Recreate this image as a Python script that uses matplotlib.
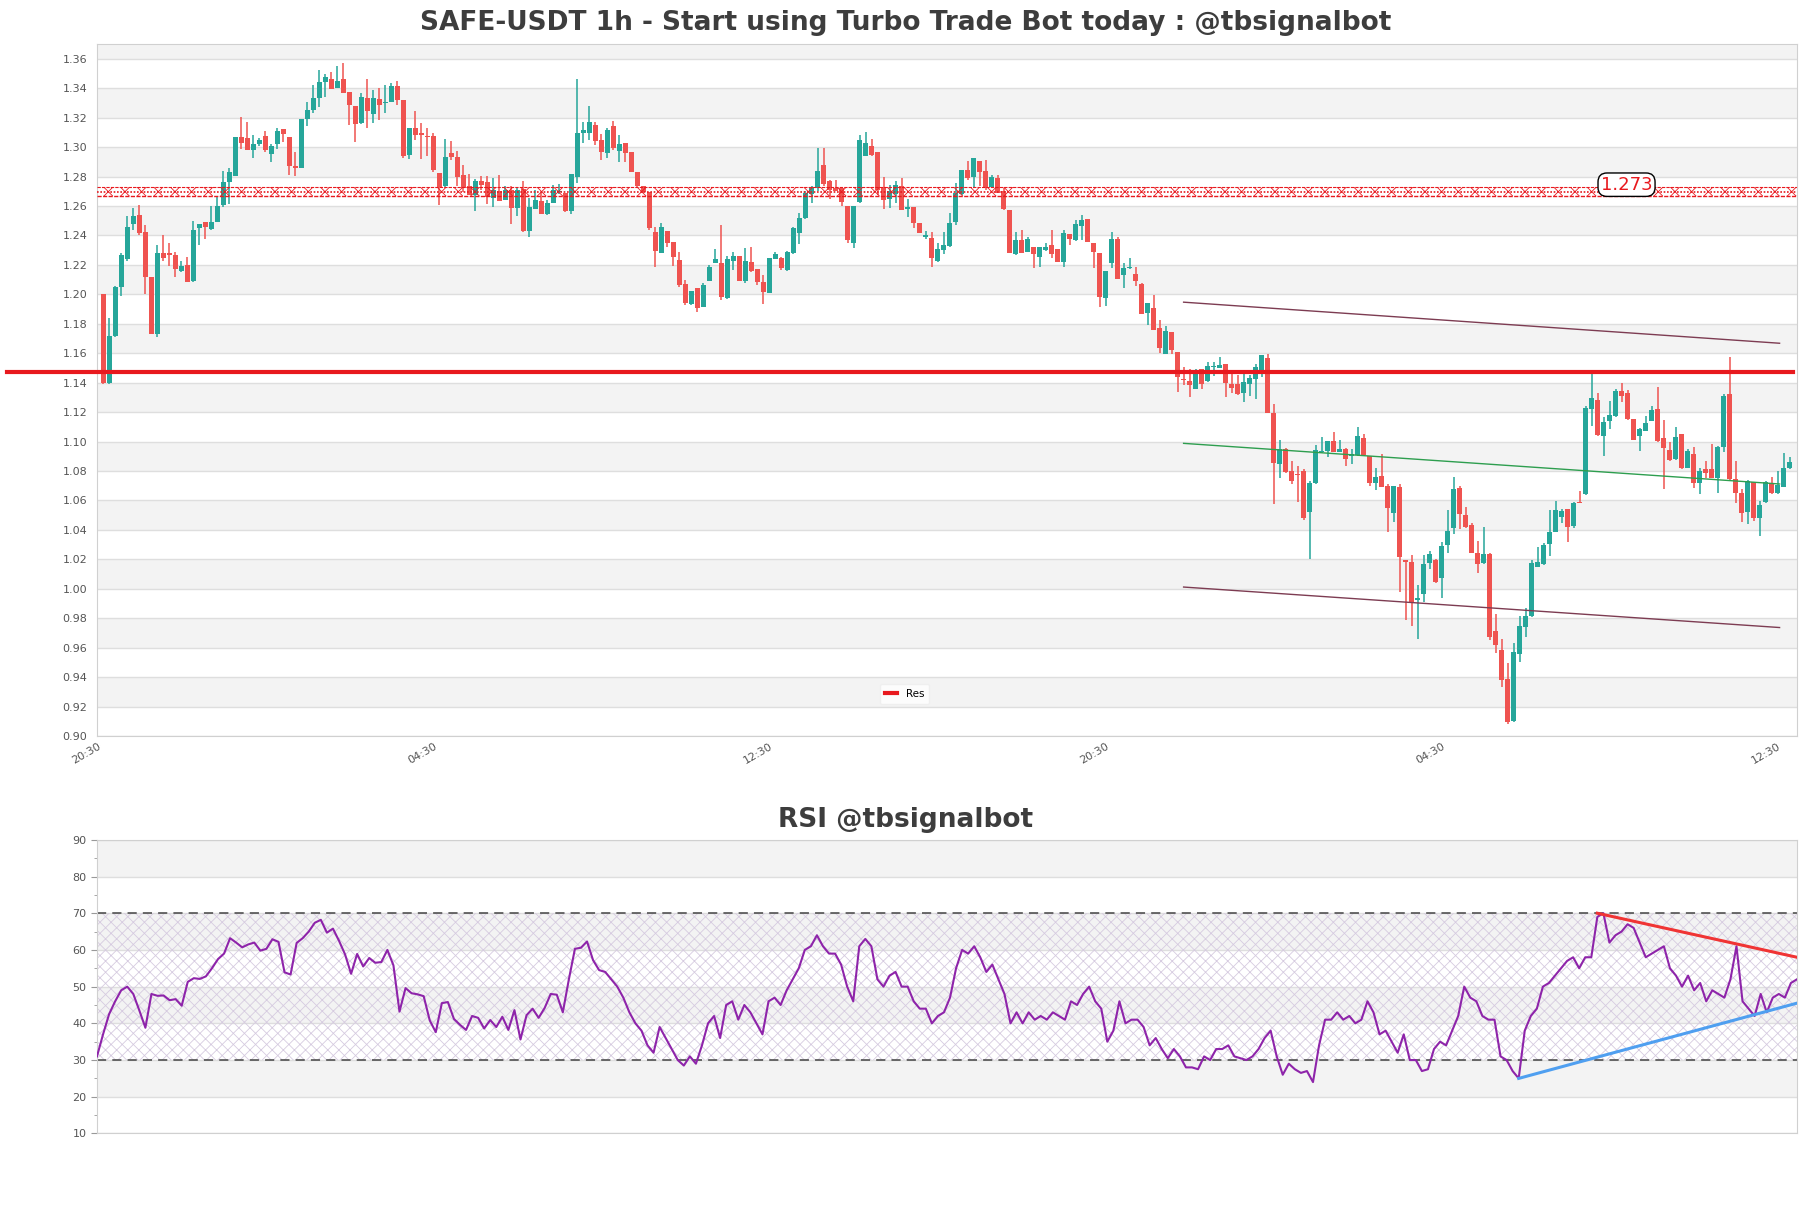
import matplotlib
matplotlib.use("Agg")
import matplotlib.pyplot as plt
import numpy as np

# candle data (hourly)
opens = [1.200, 1.140, 1.172, 1.205, 1.224, 1.248, 1.254, 1.2424, 1.212, 1.173,
         1.228, 1.228, 1.2268, 1.216, 1.220, 1.209, 1.245, 1.249, 1.2443, 1.2494,
         1.2607, 1.2766, 1.2807, 1.3072, 1.306, 1.298, 1.3018, 1.3079, 1.2952, 1.302,
         1.312, 1.3068, 1.287, 1.2855, 1.319, 1.3253, 1.3337, 1.344, 1.3464, 1.3405,
         1.3464, 1.3373, 1.328, 1.3167, 1.3335, 1.3228, 1.3328, 1.330, 1.331, 1.3417,
         1.3321, 1.2948, 1.313, 1.3095, 1.3075, 1.3077, 1.2823, 1.2733, 1.2959, 1.2932,
         1.2812, 1.2733, 1.2676, 1.2767, 1.2765, 1.2653, 1.2703, 1.2642, 1.271, 1.259,
         1.2714, 1.2433, 1.258, 1.2637, 1.2547, 1.2624, 1.2692, 1.2687, 1.2563, 1.2796,
         1.3095, 1.3095, 1.3152, 1.305, 1.2959, 1.3145, 1.2977, 1.3027, 1.2966, 1.283,
         1.2739, 1.2698, 1.2426, 1.2284, 1.2433, 1.2354, 1.2234, 1.2071, 1.1935, 1.2043,
         1.1917, 1.2093, 1.221, 1.221, 1.1972, 1.2226, 1.2264, 1.209, 1.2222, 1.217,
         1.2086, 1.2011, 1.2242, 1.2249, 1.2166, 1.228, 1.2416, 1.2518, 1.2683, 1.2722,
         1.2881, 1.2767, 1.2722, 1.2722, 1.2597, 1.2347, 1.2626, 1.2942, 1.3009, 1.2966,
         1.2726, 1.2649, 1.2683, 1.2737, 1.2578, 1.2592, 1.2483, 1.2393, 1.2386, 1.223,
         1.2303, 1.233, 1.2494, 1.2683, 1.2842, 1.2797, 1.2903, 1.2835, 1.2726, 1.279,
         1.270, 1.2574, 1.2275, 1.2366, 1.2291, 1.2325, 1.2257, 1.2298, 1.2336, 1.2309,
         1.2223, 1.2411, 1.2366, 1.2466, 1.2513, 1.2352, 1.228, 1.1974, 1.2212, 1.2375,
         1.2129, 1.2177, 1.2139, 1.2073, 1.1874, 1.1908, 1.1772, 1.1595, 1.1745, 1.1609,
         1.1426, 1.141, 1.1358, 1.149, 1.141, 1.1505, 1.150, 1.1528, 1.1392, 1.1392,
         1.1329, 1.1392, 1.1426, 1.1483, 1.1568, 1.1195, 1.0845, 1.0947, 1.080, 1.0777,
         1.080, 1.0524, 1.072, 1.0926, 1.0935, 1.1003, 1.0931, 1.0949, 1.0901, 1.0908,
         1.1026, 1.0901, 1.0716, 1.0766, 1.070, 1.0513, 1.0693, 1.0195, 1.018, 0.9922,
         0.9968, 1.0176, 1.0194, 1.0076, 1.0296, 1.0416, 1.0682, 1.0501, 1.0433, 1.0245,
         1.0177, 1.0234, 0.9714, 0.9585, 0.9388, 0.9099, 0.9558, 0.9739, 0.9816, 1.0151,
         1.0169, 1.0305, 1.0387, 1.0489, 1.0539, 1.0428, 1.0591, 1.0643, 1.122, 1.1281,
         1.1035, 1.1137, 1.1171, 1.1345, 1.1333, 1.1152, 1.1039, 1.1073, 1.1141, 1.122,
         1.1023, 1.0944, 1.0881, 1.105, 1.0824, 1.0915, 1.0718, 1.0813, 1.0813, 1.0752,
         1.0965, 1.1322, 1.0745, 1.065, 1.0525, 1.0727, 1.0478, 1.0587, 1.0722, 1.0648,
         1.0693, 1.082]
highs = [1.200, 1.184, 1.206, 1.228, 1.253, 1.259, 1.261, 1.247, 1.212, 1.2336,
         1.240, 1.2347, 1.229, 1.223, 1.2257, 1.250, 1.248, 1.249, 1.260, 1.266,
         1.284, 1.286, 1.307, 1.3208, 1.3174, 1.3083, 1.306, 1.311, 1.302, 1.3129,
         1.3125, 1.3068, 1.297, 1.319, 1.331, 1.342, 1.3525, 1.3496, 1.351, 1.3552,
         1.357, 1.3373, 1.328, 1.3367, 1.3464, 1.339, 1.340, 1.3423, 1.3435, 1.345,
         1.3321, 1.3129, 1.3247, 1.3163, 1.313, 1.3095, 1.2823, 1.3054, 1.3043, 1.2977,
         1.2879, 1.2816, 1.2782, 1.2802, 1.2805, 1.2789, 1.2812, 1.2733, 1.2733, 1.272,
         1.2771, 1.2653, 1.271, 1.2687, 1.2642, 1.2744, 1.275, 1.2687, 1.2816, 1.3462,
         1.3174, 1.328, 1.3174, 1.309, 1.313, 1.3179, 1.3081, 1.3027, 1.2966, 1.283,
         1.2739, 1.2698, 1.246, 1.2483, 1.2433, 1.2354, 1.2291, 1.2098, 1.2025, 1.2045,
         1.208, 1.220, 1.2305, 1.2474, 1.2264, 1.229, 1.2264, 1.2316, 1.2325, 1.217,
         1.2129, 1.2249, 1.2289, 1.2255, 1.2295, 1.2456, 1.2551, 1.2699, 1.2733, 1.2993,
         1.2993, 1.2775, 1.278, 1.2722, 1.2597, 1.260, 1.3083, 1.310, 1.3054, 1.2966,
         1.280, 1.2744, 1.2767, 1.279, 1.2647, 1.2592, 1.2483, 1.2431, 1.2422, 1.2347,
         1.2427, 1.2551, 1.2755, 1.2845, 1.2903, 1.2926, 1.2906, 1.2914, 1.2812, 1.2812,
         1.272, 1.2574, 1.2427, 1.2438, 1.2388, 1.2325, 1.2325, 1.2348, 1.2438, 1.2309,
         1.2438, 1.2411, 1.2502, 1.2541, 1.2513, 1.2352, 1.228, 1.216, 1.2427, 1.2393,
         1.2214, 1.2248, 1.2189, 1.2075, 1.1942, 1.1994, 1.1829, 1.1784, 1.1747, 1.1609,
         1.1505, 1.1494, 1.1494, 1.149, 1.1538, 1.1538, 1.1573, 1.1528, 1.146, 1.1449,
         1.1467, 1.1449, 1.1528, 1.159, 1.1598, 1.1252, 1.1009, 1.0955, 1.0868, 1.0834,
         1.0815, 1.0734, 1.0976, 1.1028, 1.1005, 1.1066, 1.1009, 1.0955, 1.0953, 1.1096,
         1.1051, 1.0905, 1.0818, 1.0919, 1.0711, 1.070, 1.0711, 1.0195, 1.023, 1.0024,
         1.0232, 1.0257, 1.0205, 1.0318, 1.0533, 1.0761, 1.0696, 1.0558, 1.0448, 1.0324,
         1.0422, 1.0241, 0.9827, 0.9658, 0.9494, 0.9635, 0.9812, 0.9868, 1.0196, 1.0284,
         1.0314, 1.0533, 1.0595, 1.0545, 1.0545, 1.0591, 1.0665, 1.1243, 1.1469, 1.1333,
         1.1169, 1.1277, 1.1356, 1.1395, 1.1349, 1.1152, 1.1093, 1.1175, 1.1243, 1.1372,
         1.1148, 1.0994, 1.1096, 1.1052, 1.0949, 1.096, 1.0824, 1.0869, 1.0983, 1.0971,
         1.1322, 1.1575, 1.0869, 1.0677, 1.0736, 1.0727, 1.0598, 1.0729, 1.0761, 1.0802,
         1.0921, 1.0896]
lows = [1.139, 1.139, 1.171, 1.199, 1.223, 1.244, 1.240, 1.200, 1.173, 1.171,
        1.223, 1.219, 1.212, 1.215, 1.2085, 1.2085, 1.2336, 1.2375, 1.244, 1.249,
        1.2596, 1.2615, 1.2805, 1.2986, 1.298, 1.2925, 1.301, 1.2966, 1.2898, 1.2989,
        1.3038, 1.281, 1.2805, 1.2855, 1.3147, 1.323, 1.3276, 1.334, 1.3394, 1.3405,
        1.3365, 1.315, 1.3034, 1.316, 1.3127, 1.3163, 1.3185, 1.323, 1.3305, 1.3287,
        1.2925, 1.2918, 1.305, 1.292, 1.2943, 1.2834, 1.2608, 1.2728, 1.291, 1.2733,
        1.2698, 1.2676, 1.2569, 1.271, 1.2615, 1.2596, 1.2637, 1.2642, 1.2475, 1.2529,
        1.2426, 1.2393, 1.2578, 1.2545, 1.254, 1.262, 1.2685, 1.256, 1.2547, 1.2755,
        1.3027, 1.305, 1.3016, 1.2914, 1.2923, 1.2982, 1.2902, 1.2902, 1.2834, 1.2721,
        1.269, 1.2438, 1.2184, 1.228, 1.232, 1.219, 1.2052, 1.1928, 1.193, 1.1882,
        1.1915, 1.209, 1.221, 1.196, 1.1968, 1.2166, 1.209, 1.2075, 1.2155, 1.2064,
        1.1936, 1.2008, 1.2238, 1.2166, 1.2162, 1.2277, 1.2341, 1.2514, 1.2619, 1.270,
        1.2735, 1.2649, 1.270, 1.2601, 1.2347, 1.2318, 1.262, 1.294, 1.294, 1.2676,
        1.2578, 1.2585, 1.2619, 1.2574, 1.2524, 1.245, 1.2414, 1.2377, 1.2185, 1.2217,
        1.2271, 1.2325, 1.2472, 1.2678, 1.2778, 1.2721, 1.2733, 1.271, 1.2722, 1.2688,
        1.257, 1.228, 1.2268, 1.228, 1.2288, 1.2182, 1.2189, 1.2295, 1.2245, 1.222,
        1.2189, 1.2336, 1.2362, 1.2366, 1.2355, 1.2182, 1.1913, 1.192, 1.218, 1.2102,
        1.2046, 1.2175, 1.2055, 1.1866, 1.1791, 1.1761, 1.1602, 1.1593, 1.1598, 1.1335,
        1.1385, 1.1303, 1.1355, 1.1356, 1.1405, 1.1443, 1.1497, 1.1303, 1.1329, 1.1317,
        1.1272, 1.1308, 1.1292, 1.1442, 1.1195, 1.0577, 1.0754, 1.0789, 1.0714, 1.0591,
        1.047, 1.0202, 1.0715, 1.092, 1.0892, 1.0928, 1.0928, 1.0833, 1.0847, 1.0905,
        1.0905, 1.070, 1.0671, 1.069, 1.0388, 1.0456, 0.9979, 0.9791, 0.9746, 0.966,
        0.9913, 1.0137, 1.004, 0.9935, 1.024, 1.0369, 1.0406, 1.041, 1.024, 1.0105,
        1.017, 0.9653, 0.9563, 0.9336, 0.9081, 0.9092, 0.9503, 0.9671, 0.981, 1.0145,
        1.0162, 1.0226, 1.0383, 1.0448, 1.0319, 1.041, 1.0582, 1.0638, 1.1109, 1.104,
        1.0899, 1.1085, 1.1168, 1.1272, 1.1145, 1.101, 1.0933, 1.107, 1.1138, 1.0994,
        1.0675, 1.087, 1.0878, 1.0813, 1.082, 1.0684, 1.0643, 1.0752, 1.075, 1.0654,
        1.0926, 1.0734, 1.058, 1.0455, 1.0439, 1.0462, 1.0357, 1.0585, 1.0645, 1.0645,
        1.069, 1.0815]
closes = [1.140, 1.172, 1.205, 1.227, 1.246, 1.253, 1.2415, 1.212, 1.173, 1.228,
          1.225, 1.2266, 1.2175, 1.219, 1.2087, 1.2436, 1.248, 1.246, 1.249, 1.260,
          1.2764, 1.283, 1.307, 1.3025, 1.298, 1.302, 1.305, 1.298, 1.301, 1.311,
          1.3088, 1.287, 1.2857, 1.319, 1.3249, 1.3333, 1.344, 1.3475, 1.3394, 1.345,
          1.337, 1.3287, 1.3154, 1.3342, 1.3247, 1.3333, 1.3287, 1.3305, 1.3412, 1.3317,
          1.294, 1.3129, 1.3084, 1.308, 1.3068, 1.2846, 1.2728, 1.2936, 1.2932, 1.2796,
          1.2721, 1.2676, 1.2767, 1.2744, 1.2658, 1.271, 1.2637, 1.271, 1.259, 1.271,
          1.243, 1.2596, 1.2642, 1.2547, 1.2619, 1.271, 1.2703, 1.2567, 1.2816, 1.3095,
          1.3118, 1.317, 1.3045, 1.297, 1.3118, 1.2993, 1.3022, 1.2959, 1.2834, 1.2739,
          1.2692, 1.2454, 1.2297, 1.246, 1.2347, 1.2257, 1.2064, 1.194, 1.2023, 1.191,
          1.2064, 1.2188, 1.2237, 1.1981, 1.2237, 1.226, 1.209, 1.223, 1.2158, 1.2084,
          1.2016, 1.2249, 1.2271, 1.2181, 1.2287, 1.245, 1.2522, 1.2688, 1.2722, 1.284,
          1.2749, 1.271, 1.2703, 1.2626, 1.2366, 1.260, 1.3049, 1.3027, 1.2947, 1.271,
          1.2642, 1.2703, 1.2744, 1.2574, 1.2592, 1.2483, 1.2416, 1.240, 1.2246, 1.2307,
          1.2337, 1.2483, 1.2691, 1.2842, 1.279, 1.2926, 1.2828, 1.2722, 1.2797, 1.2688,
          1.258, 1.2284, 1.237, 1.2284, 1.2375, 1.2275, 1.232, 1.2325, 1.2275, 1.2223,
          1.242, 1.2377, 1.2479, 1.2502, 1.2359, 1.2291, 1.1981, 1.216, 1.2375, 1.2104,
          1.218, 1.2182, 1.2089, 1.1869, 1.1942, 1.1761, 1.1636, 1.175, 1.1625, 1.1437,
          1.1421, 1.1381, 1.1471, 1.1388, 1.1512, 1.1512, 1.1517, 1.1397, 1.1365, 1.1324,
          1.1403, 1.1433, 1.1505, 1.1587, 1.1195, 1.0856, 1.0947, 1.0793, 1.0732, 1.0772,
          1.048, 1.072, 1.0942, 1.0937, 1.1003, 1.0931, 1.0953, 1.0879, 1.0919, 1.1037,
          1.0908, 1.0716, 1.0757, 1.0693, 1.0551, 1.070, 1.0217, 1.0184, 0.9901, 0.994,
          1.0171, 1.0239, 1.0047, 1.0289, 1.0393, 1.0677, 1.0508, 1.0422, 1.0245, 1.0168,
          1.0234, 0.9675, 0.9619, 0.9381, 0.9092, 0.9569, 0.9748, 0.9816, 1.0174, 1.0185,
          1.0298, 1.0383, 1.0534, 1.0527, 1.0421, 1.0586, 1.0586, 1.1227, 1.1295, 1.1044,
          1.1135, 1.1182, 1.1341, 1.1311, 1.1152, 1.1012, 1.1085, 1.1123, 1.1213, 1.1005,
          1.0955, 1.0874, 1.1032, 1.0824, 1.0937, 1.0716, 1.0797, 1.0784, 1.0752, 1.0965,
          1.1311, 1.0745, 1.0654, 1.0514, 1.0734, 1.0478, 1.0571, 1.0727, 1.0648, 1.0704,
          1.082, 1.0863]

rsi = [31, 37, 42.5, 46, 49, 50, 48, 43.5, 38.8, 48,
       47.5, 47.6, 46.3, 46.6, 44.8, 51.3, 52.3, 52.1, 52.8, 55,
       57.5, 59, 63.2, 62, 60.7, 61.5, 62, 59.8, 60.3, 62.9,
       62.2, 53.9, 53.3, 61.9, 63.2, 65, 67.4, 68.2, 64.7, 65.8,
       62.5, 58.8, 53.5, 58.9, 55.5, 57.8, 56.5, 56.7, 60, 55.8,
       43.2, 49.6, 48.2, 47.9, 47.4, 40.8, 37.6, 45.5, 45.8, 41.2,
       39.6, 38.2, 42, 41.5, 38.6, 40.9, 39, 41.8, 38.2, 43.6,
       35.6, 42.2, 44, 41.5, 44.2, 48, 47.8, 43, 52, 60.3,
       60.6, 62.3, 57.2, 54.5, 54, 52, 50, 47, 43, 40,
       38, 34, 32, 39, 36, 33, 30, 28.5, 31, 29,
       34, 40, 42, 36, 45, 46, 41, 45, 43, 40,
       37, 46, 47, 45, 49, 52, 55, 60, 61, 64,
       61, 59, 59, 56, 50, 46, 61, 63, 61, 52,
       50, 53, 54, 50, 50, 46, 44, 44, 40, 42,
       43, 47, 55, 60, 59, 61, 58, 54, 56, 52,
       48, 40, 43, 40, 43, 41, 42, 41, 43, 42,
       41, 46, 45, 48, 50, 46, 44, 35, 38, 46,
       40, 41, 41, 39, 34, 36, 33, 30.5, 33, 31,
       28, 28, 27.5, 31, 30, 33, 33, 34, 31, 30.5,
       30, 31, 33, 36, 38, 31, 26, 29, 27.5, 26.5,
       27, 24, 34, 41, 41, 43, 41, 42, 40, 41,
       46, 43, 37, 38, 35, 32, 37, 30, 30, 27,
       27.5, 33, 35, 34, 38, 42, 50, 47, 46, 42,
       41, 41, 31, 30, 27, 25, 38, 42, 44, 50,
       51, 53, 55, 57, 58, 55, 58, 58, 69, 70,
       62, 64, 65, 67, 66, 62, 58, 59, 60, 61,
       55, 53, 50, 53, 49, 51, 46, 49, 48, 47,
       52, 61, 46, 44, 42, 48, 43, 47, 48, 47,
       51, 52]

x_ticks = [-1, 55, 111, 167, 223, 279]
x_labels = ['20:30', '04:30', '12:30', '20:30', '04:30', '12:30']
res_level = 1.1475
zone_low, zone_high, zone_label = 1.2665, 1.2732, '1.273'
# regression channel (start idx, end idx, start price, end price)
chan_x = [180, 279.3]
chan_mid = [1.0988, 1.0712]
chan_up = [1.1947, 1.1668]
chan_lo = [1.0012, 0.9737]
# rsi trend lines
rsi_res_x, rsi_res_y = [248, 281], [70, 58]
rsi_sup_x, rsi_sup_y = [235, 281], [25, 45.5]

plt.rcParams['hatch.linewidth'] = 0.6
GREEN, RED = '#26a69a', '#ef5350'
ZONE = '#e8191e'
BAND = '#f3f3f3'
GRID = '#dedede'
SPINE = '#d0d0d0'
TXT = '#555555'

fig = plt.figure(figsize=(18.11, 12.08), dpi=100)
ax = fig.add_axes([0.05356, 0.3907, 0.9387, 0.5728])
ax2 = fig.add_axes([0.05356, 0.0617, 0.9387, 0.2431])

o = np.array(opens); h = np.array(highs); l = np.array(lows); c = np.array(closes)
idx = np.arange(len(c))
up = c >= o
cols = np.where(up, GREEN, RED)

# price panel background bands
for y0 in np.arange(0.92, 1.36, 0.04):
    ax.axhspan(y0, y0 + 0.02, color=BAND, lw=0, zorder=0)
for y in np.arange(0.90, 1.3601, 0.02):
    ax.axhline(y, color=GRID, lw=1, zorder=0.5)

ax.vlines(idx, l, h, colors=cols, lw=1.1, zorder=2)
body = np.maximum(np.abs(c - o), 0.0006)
ax.bar(idx, body, bottom=np.minimum(o, c), width=0.78, color=cols, lw=0, zorder=3)

# resistance zone
ax.axhspan(zone_low, zone_high, facecolor='none', edgecolor=ZONE, hatch='xx', lw=0, zorder=4)
ax.axhline((zone_low + zone_high) / 2, color=ZONE, ls=(0, (1, 1)), lw=1.2, zorder=4)
ax.axhline(zone_low, color=ZONE, ls=(0, (3, 1)), lw=1.0, zorder=4)
ax.axhline(zone_high, color=ZONE, ls=(0, (3, 1)), lw=0.8, zorder=4)
ax.text(253.8, 1.2745, zone_label, color=ZONE, fontsize=13, ha='center', va='center', zorder=6,
        bbox=dict(boxstyle='round,pad=0.15,rounding_size=0.5', fc='white', ec='black', lw=1))

# channel
ax.plot(chan_x, chan_up, color='#7d3c52', lw=1, zorder=4)
ax.plot(chan_x, chan_mid, color='#2e9e4f', lw=1, zorder=4)
ax.plot(chan_x, chan_lo, color='#7d3c52', lw=1, zorder=4)

ax.plot([-16, 281.5], [res_level, res_level], color=ZONE, lw=3, clip_on=False, zorder=5, label='Res')
leg = ax.legend(loc='center', bbox_to_anchor=(0.475, 0.061), fontsize=7.5, frameon=True,
                handlelength=1.2, borderpad=0.5, fancybox=True)
leg.get_frame().set_edgecolor('#eeeeee')

ax.set_xlim(-1.05, 282.2)
ax.set_ylim(0.90, 1.370)
ax.set_yticks(np.arange(0.90, 1.3601, 0.02))
ax.set_yticklabels([f'{v:.2f}' for v in np.arange(0.90, 1.3601, 0.02)])
ax.set_xticks(x_ticks)
ax.set_xticklabels(x_labels, rotation=30, ha='right', rotation_mode='anchor')
ax.tick_params(axis='both', length=0, labelsize=8, labelcolor=TXT, pad=7)
ax.tick_params(axis='x', pad=4)
for s in ax.spines.values():
    s.set_color(SPINE)

# rsi panel
for y0 in [20, 40, 60, 80]:
    ax2.axhspan(y0, y0 + 10, color=BAND, lw=0, zorder=0)
for y in range(10, 91, 10):
    ax2.axhline(y, color=GRID, lw=1, zorder=0.5)
ax2.axhspan(30, 70, facecolor='none', edgecolor='#d6cbe0', hatch='xxx', lw=0, zorder=1)
ax2.axhline(30, color='#444444', ls=(0, (6, 4)), lw=1.1, zorder=2)
ax2.axhline(70, color='#444444', ls=(0, (6, 4)), lw=1.1, zorder=2)
ax2.plot(np.arange(len(rsi)), rsi, color='#8e24aa', lw=1.5, zorder=3)
ax2.plot(rsi_res_x, rsi_res_y, color='#f03434', lw=2.2, zorder=4)
ax2.plot(rsi_sup_x, rsi_sup_y, color='#4f9ff0', lw=2.2, zorder=4)
ax2.set_xlim(0, len(rsi) - 1)
ax2.set_ylim(10, 90)
ax2.set_yticks(range(10, 91, 10))
ax2.set_yticks(range(15, 90, 10), minor=True)
ax2.set_xticks([])
ax2.tick_params(axis='y', which='major', length=4, color='#999999', labelsize=8, labelcolor=TXT)
ax2.tick_params(axis='y', which='minor', length=2, color='#999999')
for s in ax2.spines.values():
    s.set_color(SPINE)

fig.text(0.5, 0.981, 'SAFE-USDT 1h - Start using Turbo Trade Bot today : @tbsignalbot',
         ha='center', va='center', fontsize=19, fontweight='bold', color='#3d3d3d')
fig.text(0.5, 0.3215, 'RSI @tbsignalbot', ha='center', va='center', fontsize=19,
         fontweight='bold', color='#3d3d3d')

fig.savefig('out.png', dpi=100, facecolor='white')
